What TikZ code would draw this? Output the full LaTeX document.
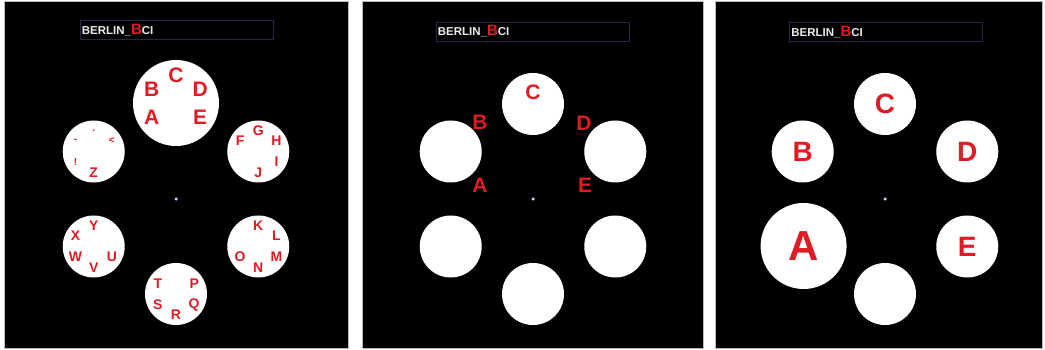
\documentclass[tikz,border=0pt]{standalone}
\usepackage{fontspec}
\setmainfont{Liberation Sans}
\usetikzlibrary{calc}

\definecolor{spellred}{RGB}{222,28,36}
\definecolor{boxline}{RGB}{38,40,72}
\definecolor{hubblue}{RGB}{205,205,255}

\begin{document}
\begin{tikzpicture}[
  x=1pt, y=1pt,
  panel/.style={draw=gray!55, line width=1pt, fill=black},
  titlebox/.style={draw=boxline, line width=0.8pt, minimum width=193pt, minimum height=19pt, inner sep=0pt},
  titletext/.style={text=white!92!black, font=\bfseries\fontsize{11.5}{11.5}\selectfont, inner sep=0pt, anchor=west},
  hub/.style={circle, fill=hubblue, minimum size=3.5pt, inner sep=0pt},
  hexdisc/.style={circle, fill=white, minimum size=62pt, inner sep=0pt},
  bigdisc/.style={hexdisc, minimum size=86pt},
  sym/.style={text=spellred, font=\bfseries\fontsize{14}{14}\selectfont, inner sep=0pt},
  smallsym/.style={sym, font=\bfseries\fontsize{10}{10}\selectfont},
  bigsym/.style={sym, font=\bfseries\fontsize{21}{21}\selectfont},
  hugesym/.style={sym, font=\bfseries\fontsize{28}{28}\selectfont},
  giantsym/.style={sym, font=\bfseries\fontsize{42}{42}\selectfont}
]
\useasboundingbox (0,0) rectangle (1045,-350);

% Panels
\draw[panel] (4,-2) rectangle (348,-348);
\draw[panel] (362,-2) rectangle (703,-348);
\draw[panel] (715,-2) rectangle (1042,-348);

% Title boxes
\node[titlebox] (t1) at (176.5,-30) {};
\node[titlebox] (t2) at (532.5,-31.5) {};
\node[titlebox] (t3) at (886,-32) {};
\foreach \t in {t1,t2,t3}
  \node[titletext] (\t txt) at ([xshift=2pt]\t.west) {BERLIN\_{\color{spellred}\fontsize{15}{15}\selectfont B}CI};

% Hubs
\node[hub] (h1) at (176,-199) {};
\node[hub] (h2) at (533,-199) {};
\node[hub] (h3) at (885,-199) {};

% Panel 1: all letters in the hexagons
\node[bigdisc] (p1d90) at ($(h1)+(90:96)$) {};
\foreach \ang in {30,330,270,210,150}
  \node[hexdisc] (p1d\ang) at ($(h1)+(\ang:95)$) {};

\foreach \ang/\sym in {210/A,150/B,90/C,30/D,330/E}
  \node[bigsym] (p1a\ang) at ($(p1d90)+(\ang:28)$) {\sym};
\foreach \ang/\sym in {150/F,90/G,30/H,330/I,270/J}
  \node[sym] (p1b\ang) at ($(p1d30)+(\ang:21)$) {\sym};
\foreach \ang/\sym in {90/K,30/L,330/M,270/N,210/O}
  \node[sym] (p1c\ang) at ($(p1d330)+(\ang:21)$) {\sym};
\foreach \ang/\sym in {30/P,330/Q,270/R,210/S,150/T}
  \node[sym] (p1e\ang) at ($(p1d270)+(\ang:21)$) {\sym};
\foreach \ang/\sym in {330/U,270/V,210/W,150/X,90/Y}
  \node[sym] (p1f\ang) at ($(p1d210)+(\ang:21)$) {\sym};
\node[sym] (p1g270) at ($(p1d150)+(270:21)$) {Z};
\foreach \ang/\sym in {210/!,150/-,90/.,30/<}
  \node[smallsym] (p1g\ang) at ($(p1d150)+(\ang:21)$) {\sym};

% Panel 2: letters spreading out
\foreach \ang in {90,30,330,270,210,150}
  \node[hexdisc] (p2d\ang) at ($(h2)+(\ang:95)$) {};
\node[bigsym] (p2C) at (533,-92) {C};
\node[bigsym] (p2B) at (480,-122) {B};
\node[bigsym] (p2D) at (584,-123) {D};
\node[bigsym] (p2A) at (480,-185) {A};
\node[bigsym] (p2E) at (585,-185) {E};

% Panel 3: one letter per hexagon
\foreach \ang in {90,30,330,270,150}
  \node[hexdisc] (p3d\ang) at ($(h3)+(\ang:95)$) {};
\node[bigdisc] (p3d210) at ($(h3)+(210:94)$) {};
\node[hugesym] (p3C) at (p3d90) {C};
\node[hugesym] (p3D) at (p3d30) {D};
\node[hugesym] (p3E) at (p3d330) {E};
\node[hugesym] (p3B) at (p3d150) {B};
\node[giantsym] (p3A) at (p3d210) {A};

\end{tikzpicture}
\end{document}
